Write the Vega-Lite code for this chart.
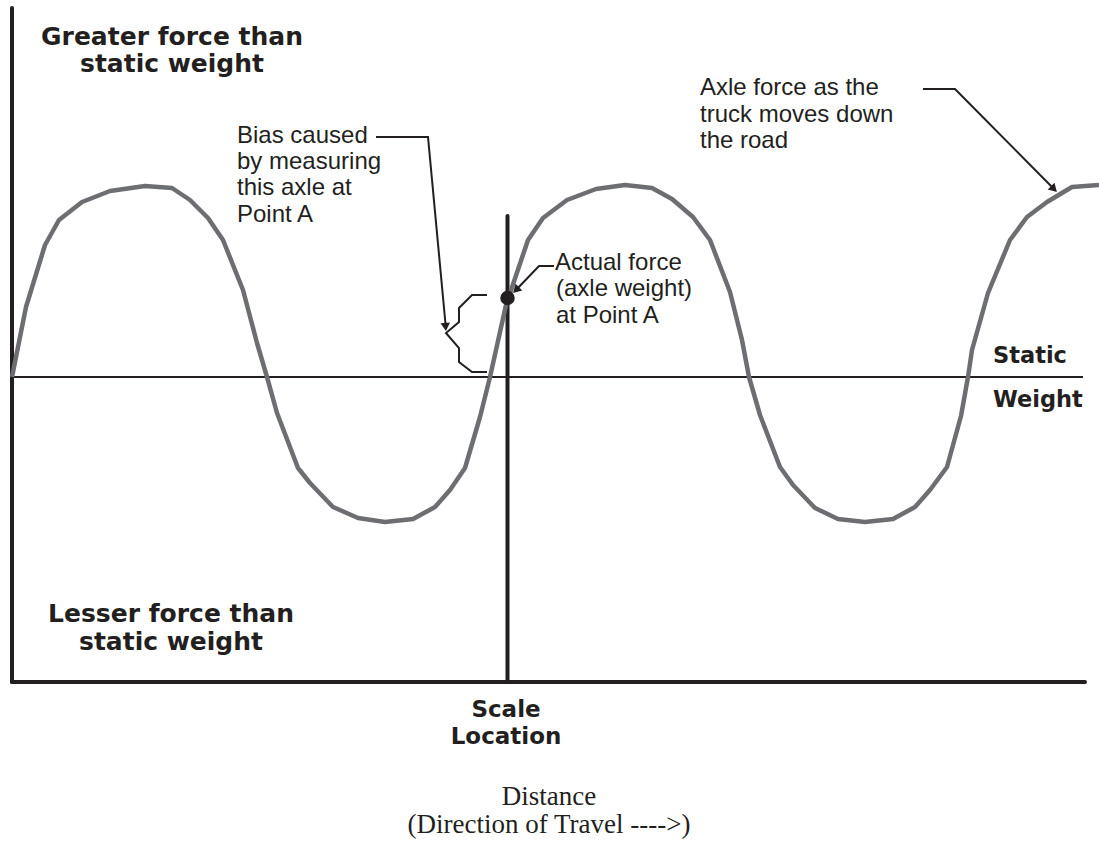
{
  "$schema": "https://vega.github.io/schema/vega-lite/v6.json",
  "width": 1099,
  "height": 841,
  "padding": 0,
  "autosize": {"type": "none"},
  "background": "white",
  "config": {"view": {"stroke": null}},
  "layer": [
    {
      "data": {"values": [
        {"d": 12, "f": 0, "d2": 1083, "f2": 0}
      ]},
      "mark": {"type": "rule", "stroke": "#231f20", "strokeWidth": 2},
      "encoding": {
        "x": {"field": "d", "type": "quantitative", "scale": {"domain": [0, 1099], "nice": false, "zero": false}, "axis": null},
        "y": {"field": "f", "type": "quantitative", "scale": {"domain": [-464, 377], "nice": false, "zero": false}, "axis": null},
        "x2": {"field": "d2"},
        "y2": {"field": "f2"}
      }
    },
    {
      "data": {"values": [
        {"d": 12, "f": 369, "d2": 12, "f2": -305},
        {"d": 12, "f": -305, "d2": 1085, "f2": -305},
        {"d": 507.5, "f": 161, "d2": 507.5, "f2": -305}
      ]},
      "mark": {"type": "rule", "stroke": "#231f20", "strokeWidth": 4, "strokeCap": "round"},
      "encoding": {
        "x": {"field": "d", "type": "quantitative", "scale": {"domain": [0, 1099], "nice": false, "zero": false}, "axis": null},
        "y": {"field": "f", "type": "quantitative", "scale": {"domain": [-464, 377], "nice": false, "zero": false}, "axis": null},
        "x2": {"field": "d2"},
        "y2": {"field": "f2"}
      }
    },
    {
      "data": {"values": [
        {"d": 12, "f": 0}, {"d": 26, "f": 70}, {"d": 45, "f": 132}, {"d": 59, "f": 157}, {"d": 82, "f": 175},
        {"d": 110, "f": 186}, {"d": 145, "f": 191}, {"d": 172, "f": 189}, {"d": 190, "f": 177}, {"d": 208, "f": 159},
        {"d": 223, "f": 137}, {"d": 243, "f": 87}, {"d": 257, "f": 34}, {"d": 267, "f": 0},
        {"d": 277, "f": -36}, {"d": 298, "f": -91}, {"d": 310, "f": -106}, {"d": 333, "f": -130}, {"d": 358, "f": -141},
        {"d": 385, "f": -145}, {"d": 413, "f": -142}, {"d": 435, "f": -130}, {"d": 450, "f": -113}, {"d": 465, "f": -91},
        {"d": 480, "f": -40}, {"d": 490, "f": 0},
        {"d": 506, "f": 72}, {"d": 528, "f": 137}, {"d": 543, "f": 159}, {"d": 567, "f": 177}, {"d": 596, "f": 188},
        {"d": 625, "f": 192}, {"d": 652, "f": 189}, {"d": 672, "f": 178}, {"d": 693, "f": 160}, {"d": 710, "f": 137},
        {"d": 730, "f": 85}, {"d": 742, "f": 37}, {"d": 749, "f": 0},
        {"d": 760, "f": -38}, {"d": 780, "f": -90}, {"d": 793, "f": -108}, {"d": 815, "f": -131}, {"d": 838, "f": -142},
        {"d": 865, "f": -145}, {"d": 893, "f": -142}, {"d": 915, "f": -130}, {"d": 930, "f": -113}, {"d": 947, "f": -90},
        {"d": 961, "f": -39}, {"d": 968, "f": 0},
        {"d": 972, "f": 27}, {"d": 988, "f": 84}, {"d": 1010, "f": 137}, {"d": 1027, "f": 160}, {"d": 1047, "f": 175},
        {"d": 1072, "f": 190}, {"d": 1099, "f": 192}
      ]},
      "mark": {"type": "line", "stroke": "#6d6e71", "strokeWidth": 4.5, "strokeJoin": "round"},
      "encoding": {
        "x": {"field": "d", "type": "quantitative", "scale": {"domain": [0, 1099], "nice": false, "zero": false}, "axis": null},
        "y": {"field": "f", "type": "quantitative", "scale": {"domain": [-464, 377], "nice": false, "zero": false}, "axis": null}
      }
    },
    {
      "data": {"values": [
        {"seg": "brace", "i": 1, "d": 487, "f": 82}, {"seg": "brace", "i": 2, "d": 472, "f": 82},
        {"seg": "brace", "i": 3, "d": 459, "f": 69}, {"seg": "brace", "i": 4, "d": 459, "f": 55},
        {"seg": "brace", "i": 5, "d": 446, "f": 44}, {"seg": "brace", "i": 6, "d": 459, "f": 29},
        {"seg": "brace", "i": 7, "d": 459, "f": 15}, {"seg": "brace", "i": 8, "d": 472, "f": 5},
        {"seg": "brace", "i": 9, "d": 487, "f": 5},
        {"seg": "bias", "i": 1, "d": 376, "f": 240}, {"seg": "bias", "i": 2, "d": 428, "f": 240},
        {"seg": "bias", "i": 3, "d": 445.6, "f": 52},
        {"seg": "actual", "i": 1, "d": 554, "f": 111}, {"seg": "actual", "i": 2, "d": 539, "f": 111},
        {"seg": "actual", "i": 3, "d": 516, "f": 87},
        {"seg": "axle", "i": 1, "d": 923, "f": 288}, {"seg": "axle", "i": 2, "d": 955, "f": 288},
        {"seg": "axle", "i": 3, "d": 1054, "f": 188}
      ]},
      "mark": {"type": "line", "stroke": "#231f20", "strokeWidth": 2},
      "encoding": {
        "x": {"field": "d", "type": "quantitative", "scale": {"domain": [0, 1099], "nice": false, "zero": false}, "axis": null},
        "y": {"field": "f", "type": "quantitative", "scale": {"domain": [-464, 377], "nice": false, "zero": false}, "axis": null},
        "detail": {"field": "seg"},
        "order": {"field": "i", "type": "quantitative"}
      }
    },
    {
      "data": {"values": [{"d": 445.6, "f": 50}]},
      "mark": {"type": "point", "shape": "triangle-down", "filled": true, "color": "#231f20", "opacity": 1, "size": 90, "angle": -5},
      "encoding": {
        "x": {"field": "d", "type": "quantitative", "scale": {"domain": [0, 1099], "nice": false, "zero": false}, "axis": null},
        "y": {"field": "f", "type": "quantitative", "scale": {"domain": [-464, 377], "nice": false, "zero": false}, "axis": null}
      }
    },
    {
      "data": {"values": [{"d": 516, "f": 87}]},
      "mark": {"type": "point", "shape": "triangle-down", "filled": true, "color": "#231f20", "opacity": 1, "size": 90, "angle": 45},
      "encoding": {
        "x": {"field": "d", "type": "quantitative", "scale": {"domain": [0, 1099], "nice": false, "zero": false}, "axis": null},
        "y": {"field": "f", "type": "quantitative", "scale": {"domain": [-464, 377], "nice": false, "zero": false}, "axis": null}
      }
    },
    {
      "data": {"values": [{"d": 1054, "f": 188}]},
      "mark": {"type": "point", "shape": "triangle-down", "filled": true, "color": "#231f20", "opacity": 1, "size": 90, "angle": -45},
      "encoding": {
        "x": {"field": "d", "type": "quantitative", "scale": {"domain": [0, 1099], "nice": false, "zero": false}, "axis": null},
        "y": {"field": "f", "type": "quantitative", "scale": {"domain": [-464, 377], "nice": false, "zero": false}, "axis": null}
      }
    },
    {
      "data": {"values": [{"d": 507.5, "f": 79}]},
      "mark": {"type": "point", "shape": "circle", "filled": true, "color": "#231f20", "opacity": 1, "size": 210},
      "encoding": {
        "x": {"field": "d", "type": "quantitative", "scale": {"domain": [0, 1099], "nice": false, "zero": false}, "axis": null},
        "y": {"field": "f", "type": "quantitative", "scale": {"domain": [-464, 377], "nice": false, "zero": false}, "axis": null}
      }
    },
    {
      "data": {"values": [
        {"d": 237, "f": 234, "label": "Bias caused"},
        {"d": 237, "f": 208, "label": "by measuring"},
        {"d": 237, "f": 182, "label": "this axle at"},
        {"d": 237, "f": 155, "label": "Point A"},
        {"d": 555, "f": 107, "label": "Actual force"},
        {"d": 556, "f": 81, "label": "(axle weight)"},
        {"d": 556, "f": 54, "label": "at Point A"},
        {"d": 700, "f": 282, "label": "Axle force as the"},
        {"d": 700, "f": 255, "label": "truck moves down"},
        {"d": 700, "f": 229, "label": "the road"}
      ]},
      "mark": {"type": "text", "align": "left", "baseline": "alphabetic", "font": "Liberation Sans", "fontSize": 24, "color": "#231f20"},
      "encoding": {
        "x": {"field": "d", "type": "quantitative", "scale": {"domain": [0, 1099], "nice": false, "zero": false}, "axis": null},
        "y": {"field": "f", "type": "quantitative", "scale": {"domain": [-464, 377], "nice": false, "zero": false}, "axis": null},
        "text": {"field": "label"}
      }
    },
    {
      "data": {"values": [
        {"d": 172, "f": 332, "label": "Greater force than"},
        {"d": 172, "f": 305, "label": "static weight"},
        {"d": 171, "f": -245, "label": "Lesser force than"},
        {"d": 171, "f": -273, "label": "static weight"}
      ]},
      "mark": {"type": "text", "align": "center", "baseline": "alphabetic", "font": "DejaVu Sans", "fontWeight": "bold", "fontSize": 25, "color": "#231f20"},
      "encoding": {
        "x": {"field": "d", "type": "quantitative", "scale": {"domain": [0, 1099], "nice": false, "zero": false}, "axis": null},
        "y": {"field": "f", "type": "quantitative", "scale": {"domain": [-464, 377], "nice": false, "zero": false}, "axis": null},
        "text": {"field": "label"}
      }
    },
    {
      "data": {"values": [
        {"d": 993, "f": 14, "label": "Static"},
        {"d": 993, "f": -30, "label": "Weight"}
      ]},
      "mark": {"type": "text", "align": "left", "baseline": "alphabetic", "font": "DejaVu Sans", "fontWeight": "bold", "fontSize": 22.5, "color": "#231f20"},
      "encoding": {
        "x": {"field": "d", "type": "quantitative", "scale": {"domain": [0, 1099], "nice": false, "zero": false}, "axis": null},
        "y": {"field": "f", "type": "quantitative", "scale": {"domain": [-464, 377], "nice": false, "zero": false}, "axis": null},
        "text": {"field": "label"}
      }
    },
    {
      "data": {"values": [
        {"d": 506, "f": -340, "label": "Scale"},
        {"d": 506, "f": -367, "label": "Location"}
      ]},
      "mark": {"type": "text", "align": "center", "baseline": "alphabetic", "font": "DejaVu Sans", "fontWeight": "bold", "fontSize": 23, "color": "#231f20"},
      "encoding": {
        "x": {"field": "d", "type": "quantitative", "scale": {"domain": [0, 1099], "nice": false, "zero": false}, "axis": null},
        "y": {"field": "f", "type": "quantitative", "scale": {"domain": [-464, 377], "nice": false, "zero": false}, "axis": null},
        "text": {"field": "label"}
      }
    },
    {
      "data": {"values": [
        {"d": 549, "f": -428, "label": "Distance"},
        {"d": 549, "f": -456, "label": "(Direction of Travel ---->)"}
      ]},
      "mark": {"type": "text", "align": "center", "baseline": "alphabetic", "font": "Liberation Serif", "fontSize": 27, "color": "#231f20"},
      "encoding": {
        "x": {"field": "d", "type": "quantitative", "scale": {"domain": [0, 1099], "nice": false, "zero": false}, "axis": null},
        "y": {"field": "f", "type": "quantitative", "scale": {"domain": [-464, 377], "nice": false, "zero": false}, "axis": null},
        "text": {"field": "label"}
      }
    }
  ]
}
